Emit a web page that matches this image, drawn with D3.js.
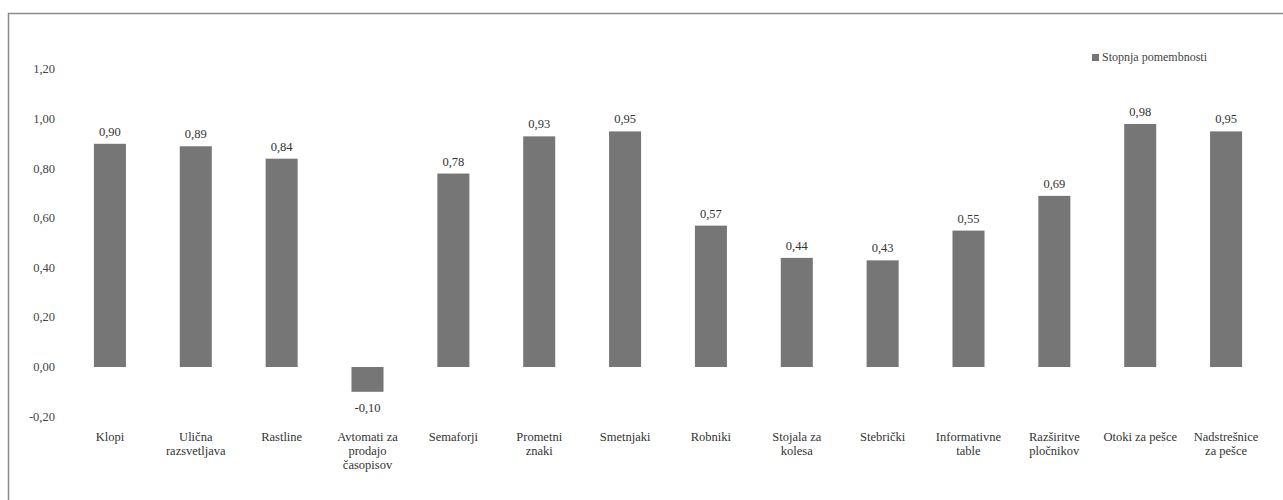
<!DOCTYPE html>
<html><head><meta charset="utf-8">
<script src="https://cdnjs.cloudflare.com/ajax/libs/d3/7.8.5/d3.min.js"></script>
<style>body{margin:0;background:#fff}svg{display:block}svg text{font-family:"Times New Roman",Times,"Liberation Serif","DejaVu Serif",serif !important}</style>
</head><body><svg id="c" width="1283" height="500"></svg>
<script>
const categories = [["Klopi"],["Ulična","razsvetljava"],["Rastline"],["Avtomati za","prodajo","časopisov"],["Semaforji"],["Prometni","znaki"],["Smetnjaki"],["Robniki"],["Stojala za","kolesa"],["Stebrički"],["Informativne","table"],["Razširitve","pločnikov"],["Otoki za pešce"],["Nadstrešnice","za pešce"]];
const values = [0.90,0.89,0.84,-0.10,0.78,0.93,0.95,0.57,0.44,0.43,0.55,0.69,0.98,0.95];
const yTicks = [-0.2,0,0.2,0.4,0.6,0.8,1.0,1.2];
const seriesName = "Stopnja pomembnosti";

const svg = d3.select("#c");
svg.append("rect").attr("x",8.5).attr("y",13.5).attr("width",1290).attr("height",500).attr("fill","none").attr("stroke","#8a8a8a").attr("stroke-width",1.5);

const x = d3.scaleBand().domain(d3.range(categories.length)).range([67,1269]).paddingInner(0.627).paddingOuter(0.3135);
const y = d3.scaleLinear().domain([-0.2,1.2]).range([416.6,69.4]);
const fmt = v => d3.format(".2f")(v).replace(".",",").replace("\u2212","-");

svg.append("g").selectAll("text").data(yTicks).join("text")
  .attr("x",55).attr("y",d=>y(d)+4).attr("text-anchor","end")
  .attr("font-size",12.5).attr("fill","#444").text(fmt);

svg.append("g").selectAll("rect").data(values).join("rect")
  .attr("x",(d,i)=>x(i)).attr("width",x.bandwidth())
  .attr("y",d=>y(Math.max(0,d))).attr("height",d=>Math.abs(y(d)-y(0)))
  .attr("fill","#767676");

svg.append("g").selectAll("text").data(values).join("text")
  .attr("x",(d,i)=>x(i)+x.bandwidth()/2)
  .attr("y",d=>d>=0 ? y(d)-8 : y(d)+20)
  .attr("text-anchor","middle").attr("font-size",12.5).attr("fill","#333").text(fmt);

const xl = svg.append("g").selectAll("text").data(categories).join("text")
  .attr("x",(d,i)=>x(i)+x.bandwidth()/2).attr("y",441)
  .attr("text-anchor","middle").attr("font-size",12.5).attr("fill","#333");
xl.each(function(d){
  const t=d3.select(this);
  d.forEach((l,k)=>t.append("tspan").attr("x",t.attr("x")).attr("dy",k?14:0).text(l));
});

const lg = svg.append("g");
lg.append("rect").attr("x",1092).attr("y",54).attr("width",7).attr("height",7).attr("fill","#767676");
lg.append("text").attr("x",1102).attr("y",61).attr("font-size",12).attr("fill","#444").text(seriesName);
</script></body></html>
